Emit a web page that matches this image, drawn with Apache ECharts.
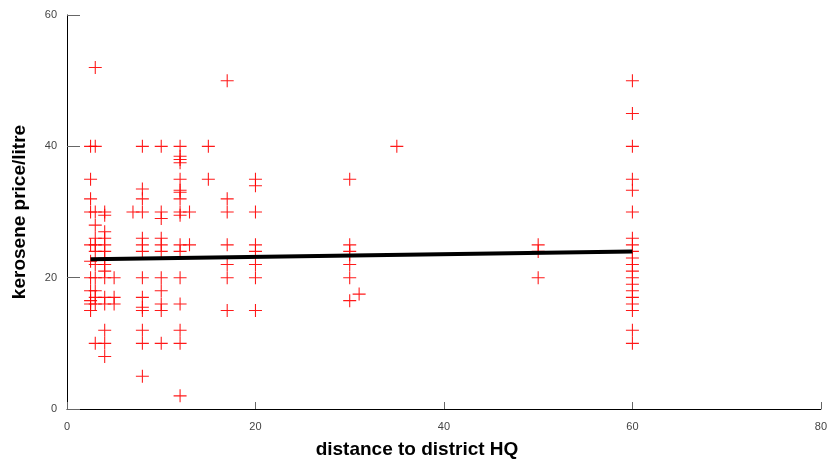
<!DOCTYPE html>
<html><head><meta charset="utf-8">
<script src="https://cdn.jsdelivr.net/npm/echarts@6/dist/echarts.min.js"></script>
<style>html,body{margin:0;padding:0;background:#fff}#c{width:830px;height:460px}</style>
</head><body><div id="c"></div>
<script>
// distance to district HQ (x) and kerosene price per litre (y), grouped by distance
const distances = [2.5, 3, 4, 5, 7, 8, 10, 12, 13, 15, 17, 20, 30, 31, 35, 50, 60];
const pricesAt = [
  [40, 35, 32, 30, 25, 22.5, 20, 18, 16.5, 16, 15],
  [52, 40, 30, 28, 26, 25, 24, 22, 20, 18, 17, 16, 10],
  [30, 29.5, 27, 26, 25, 24, 23, 22, 21, 20, 17, 16, 12, 10, 8],
  [20, 17, 16],
  [30],
  [40, 33.5, 32, 30, 26, 25, 24, 20, 17, 15.5, 15, 12, 10, 5],
  [40, 30, 29, 26, 25, 24, 20, 18, 16, 15, 10],
  [40, 38.5, 38, 37.5, 35, 33.3, 33, 32, 30, 29.5, 25, 24, 20, 16, 12, 10, 2],
  [30, 25],
  [40, 35],
  [50, 32, 30, 25, 22, 20, 15],
  [35, 34, 30, 25, 24, 22, 20, 15],
  [35, 25, 24, 23.5, 22, 20, 16.5],
  [17.5],
  [40],
  [25, 24, 20],
  [50, 45, 40, 35, 33.3, 30, 26, 25, 24, 23, 22, 21, 20, 19, 18, 17, 16, 15, 12, 10]
];
const fitX = [2.5, 60];
const fitY = [22.8, 24.0];
const xTicks = [0, 20, 40, 60, 80];
const yTicks = [0, 20, 40, 60];

const points = [];
distances.forEach((d, i) => pricesAt[i].forEach(p => points.push([d, p])));
const fitLine = fitX.map((x, i) => [x, fitY[i]]);

const chart = echarts.init(document.getElementById('c'), null, {renderer: 'canvas'});
const labelFont = {color: '#444', fontSize: 11, fontFamily: 'Liberation Sans, Arial, sans-serif'};
chart.setOption({
  animation: false,
  grid: {left: 67, right: 5, top: 15, bottom: 51, containLabel: false},
  xAxis: {
    type: 'value', min: xTicks[0], max: xTicks[xTicks.length - 1], interval: 20,
    axisLine: {show: true, onZero: false, lineStyle: {color: '#000', width: 1}},
    axisTick: {show: true, inside: true, length: 7, lineStyle: {color: '#666'}},
    axisLabel: Object.assign({margin: 12, showMaxLabel: true}, labelFont),
    splitLine: {show: false}
  },
  yAxis: {
    type: 'value', min: yTicks[0], max: yTicks[yTicks.length - 1], interval: 20,
    axisLine: {show: true, onZero: false, lineStyle: {color: '#000', width: 1}},
    axisTick: {show: true, inside: true, length: 13, lineStyle: {color: '#666'}},
    axisLabel: Object.assign({margin: 10}, labelFont),
    splitLine: {show: false}
  },
  graphic: [
    {type: 'text', x: 417, y: 450, style: {text: 'distance to district HQ', font: 'bold 19px "Liberation Sans", Arial, sans-serif', fill: '#000', align: 'center', verticalAlign: 'middle'}},
    {type: 'text', x: 20, y: 212, rotation: Math.PI / 2, style: {text: 'kerosene price/litre', font: 'bold 19px "Liberation Sans", Arial, sans-serif', fill: '#000', align: 'center', verticalAlign: 'middle'}}
  ],
  series: [
    {
      type: 'scatter',
      data: points,
      symbol: 'path://M0,5.5H12V6.5H0Z M5.5,0H6.5V12H5.5Z',
      symbolSize: 13,
      itemStyle: {color: '#ff0000', opacity: 0.9},
      z: 2
    },
    {
      type: 'line',
      data: fitLine,
      symbol: 'none',
      lineStyle: {color: '#000', width: 4},
      z: 3
    }
  ]
});
</script></body></html>
